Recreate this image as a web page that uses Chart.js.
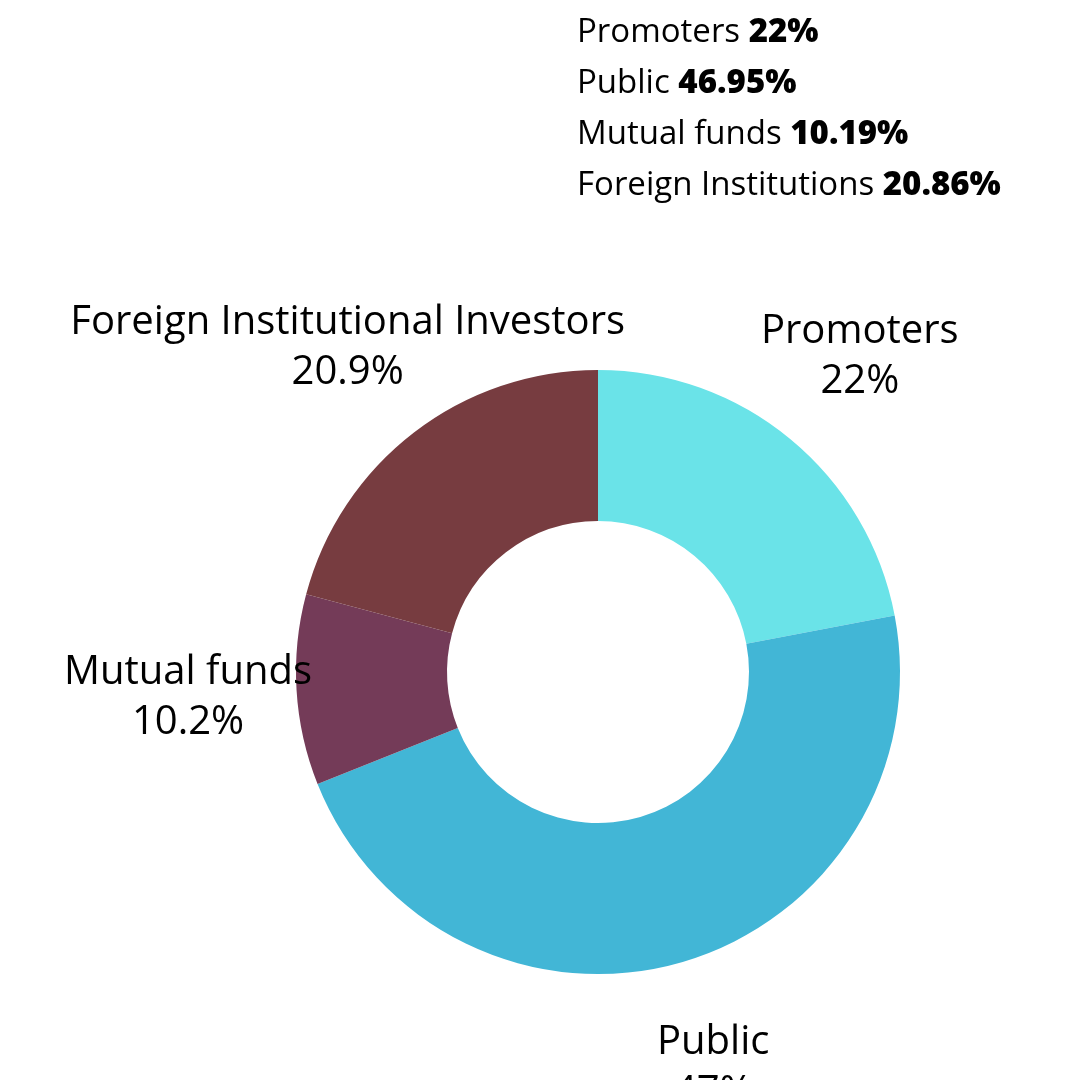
<!DOCTYPE html>
<html>
<head>
<meta charset="utf-8">
<script src="https://cdn.jsdelivr.net/npm/chart.js@4"></script>
<style>
  body { margin: 0; background: #fff; }
  #legend { position: absolute; left: 577px; top: 4px; font-family: "Open Sans", Lato, sans-serif; font-size: 33px; line-height: 51px; color: #000; }
  #legend b { font-weight: 800; }
</style>
</head>
<body>
<div id="legend"></div>
<canvas id="myChart" width="1080" height="1080"></canvas>
<script>
const labels = ['Promoters', 'Public', 'Mutual funds', 'Foreign Institutional Investors'];
const legendNames = ['Promoters', 'Public', 'Mutual funds', 'Foreign Institutions'];
const shares = [22, 46.95, 10.19, 20.86];
const sliceLabels = ['22%', '47%', '10.2%', '20.9%'];
const colors = ['#6AE3E8', '#42B6D6', '#743B58', '#773C40'];

document.getElementById('legend').innerHTML = legendNames
  .map((n, i) => n + ' <b>' + shares[i] + '%</b>').join('<br>');

// draw the name + percentage outside each slice
const outsideLabels = {
  id: 'outsideLabels',
  afterDraw(chart) {
    const ctx = chart.ctx;
    const meta = chart.getDatasetMeta(0);
    ctx.save();
    ctx.font = '40px "Open Sans", Lato, sans-serif';
    ctx.fillStyle = '#000';
    ctx.textAlign = 'center';
    ctx.textBaseline = 'middle';
    meta.data.forEach((arc, i) => {
      const mid = (arc.startAngle + arc.endAngle) / 2;
      const r = arc.outerRadius * 1.36;
      const x = arc.x + Math.cos(mid) * r;
      const y = arc.y + Math.sin(mid) * r;
      const name = labels[i] === 'Mutual funds' ? x - 0 : x;
      ctx.fillText(labels[i], name, y - 24);
      ctx.fillText(sliceLabels[i], name, y + 26);
    });
    ctx.restore();
  }
};

const ctx = document.getElementById('myChart').getContext('2d');
new Chart(ctx, {
  type: 'doughnut',
  data: {
    labels: labels,
    datasets: [{
      data: shares,
      backgroundColor: colors,
      borderWidth: 0
    }]
  },
  options: {
    responsive: false,
    animation: false,
    cutout: '50%',
    layout: { padding: { left: 296, right: 180, top: 370, bottom: 106 } },
    plugins: { legend: { display: false }, tooltip: { enabled: false } }
  },
  plugins: [outsideLabels]
});
</script>
</body>
</html>
